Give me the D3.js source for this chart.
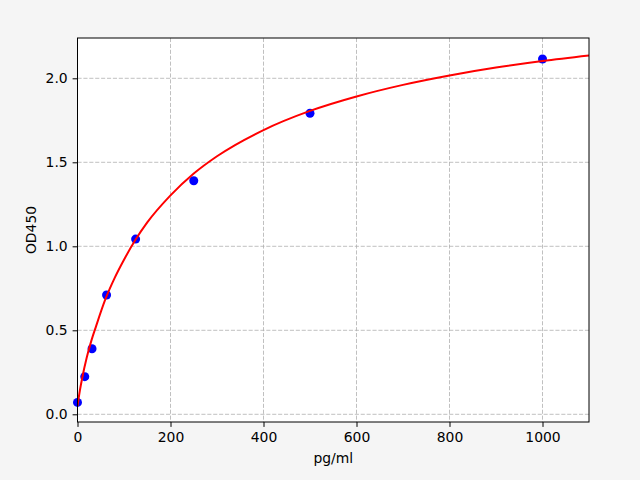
<!DOCTYPE html>
<html>
<head>
<meta charset="utf-8">
<script src="https://cdn.jsdelivr.net/npm/d3@7"></script>
<style>
  html, body { margin: 0; padding: 0; background: #f5f5f5; }
  svg { display: block; }
  text { font-family: "DejaVu Sans", sans-serif; }
</style>
</head>
<body>
<svg id="chart" width="640" height="480"></svg>
<script>
// Measured standard points
const concentrations = [0, 15.625, 31.25, 62.5, 125, 250, 500, 1000];
const odValues = [0.071, 0.224, 0.39, 0.71, 1.043, 1.39, 1.792, 2.115];

// Fitted curve
const curveX = [0, 5, 10, 20, 30, 40, 60, 80, 100, 125, 150, 200, 250, 300, 400, 500, 600, 700, 800, 900, 1000, 1100];
const curveY = [0.05, 0.14, 0.215, 0.34, 0.44, 0.525, 0.685, 0.812, 0.92, 1.04, 1.142, 1.303, 1.433, 1.536, 1.692, 1.806, 1.892, 1.961, 2.017, 2.064, 2.103, 2.136];

const xTicks = [0, 200, 400, 600, 800, 1000];
const yTicks = [0.0, 0.5, 1.0, 1.5, 2.0];
const xLabel = "pg/ml";
const yLabel = "OD450";

const svg = d3.select("#chart");
const W = 640, H = 480;
const m = { left: 77.5, right: 589, top: 38, bottom: 422 };

svg.append("rect").attr("width", W).attr("height", H).attr("fill", "#f5f5f5");

const x = d3.scaleLinear().domain([0, 1100]).range([m.left, m.right]);
const y = d3.scaleLinear().domain([-0.0458, 2.2399]).range([m.bottom, m.top]);

// plot area
svg.append("rect")
  .attr("x", m.left).attr("y", m.top)
  .attr("width", m.right - m.left).attr("height", m.bottom - m.top)
  .attr("fill", "#ffffff");

// grid
const grid = svg.append("g");
grid.selectAll("line.gx").data(xTicks).enter().append("line")
  .attr("x1", d => x(d)).attr("x2", d => x(d))
  .attr("y1", m.top).attr("y2", m.bottom)
  .attr("stroke", "#b0b0b0").attr("stroke-width", 0.8)
  .attr("stroke-dasharray", "4.1,1.8");
grid.selectAll("line.gy").data(yTicks).enter().append("line")
  .attr("y1", d => y(d)).attr("y2", d => y(d))
  .attr("x1", m.left).attr("x2", m.right)
  .attr("stroke", "#b0b0b0").attr("stroke-width", 0.8)
  .attr("stroke-dasharray", "4.1,1.8");

// clip for curve
svg.append("clipPath").attr("id", "clip")
  .append("rect")
  .attr("x", m.left).attr("y", m.top)
  .attr("width", m.right - m.left).attr("height", m.bottom - m.top);

// points
svg.append("g").selectAll("circle").data(concentrations).enter().append("circle")
  .attr("cx", (d) => x(d))
  .attr("cy", (d, i) => y(odValues[i]))
  .attr("r", 4.5)
  .attr("fill", "#0000ff");

// curve
const curveData = curveX.map((d, i) => [d, curveY[i]]);
svg.append("path")
  .datum(curveData)
  .attr("clip-path", "url(#clip)")
  .attr("fill", "none")
  .attr("stroke", "#ff0000")
  .attr("stroke-width", 2)
  .attr("d", d3.line().x(d => x(d[0])).y(d => y(d[1])).curve(d3.curveMonotoneX));

// axes
const xAxis = d3.axisBottom(x).tickValues(xTicks).tickFormat(d3.format("d")).tickSizeOuter(0).tickSize(4.9).tickPadding(4.9);
const yAxis = d3.axisLeft(y).tickValues(yTicks).tickFormat(d3.format(".1f")).tickSizeOuter(0).tickSize(4.9).tickPadding(4.9);

const gx = svg.append("g").attr("transform", `translate(0,${m.bottom})`).call(xAxis);
const gy = svg.append("g").attr("transform", `translate(${m.left},0)`).call(yAxis);
[gx, gy].forEach(g => {
  g.select(".domain").remove();
  g.selectAll(".tick line").attr("stroke", "#000").attr("stroke-width", 1);
  g.selectAll(".tick text").attr("fill", "#000").style("font-size", "13.9px").style("font-family", "DejaVu Sans");
});

// spines
svg.append("rect")
  .attr("x", m.left).attr("y", m.top)
  .attr("width", m.right - m.left).attr("height", m.bottom - m.top)
  .attr("fill", "none").attr("stroke", "#000").attr("stroke-width", 1);

// labels
svg.append("text")
  .attr("x", (m.left + m.right) / 2).attr("y", 463)
  .attr("text-anchor", "middle")
  .style("font-size", "13.9px")
  .text(xLabel);

svg.append("text")
  .attr("transform", `translate(36,${(m.top + m.bottom) / 2}) rotate(-90)`)
  .attr("text-anchor", "middle")
  .style("font-size", "13.9px")
  .text(yLabel);
</script>
</body>
</html>
